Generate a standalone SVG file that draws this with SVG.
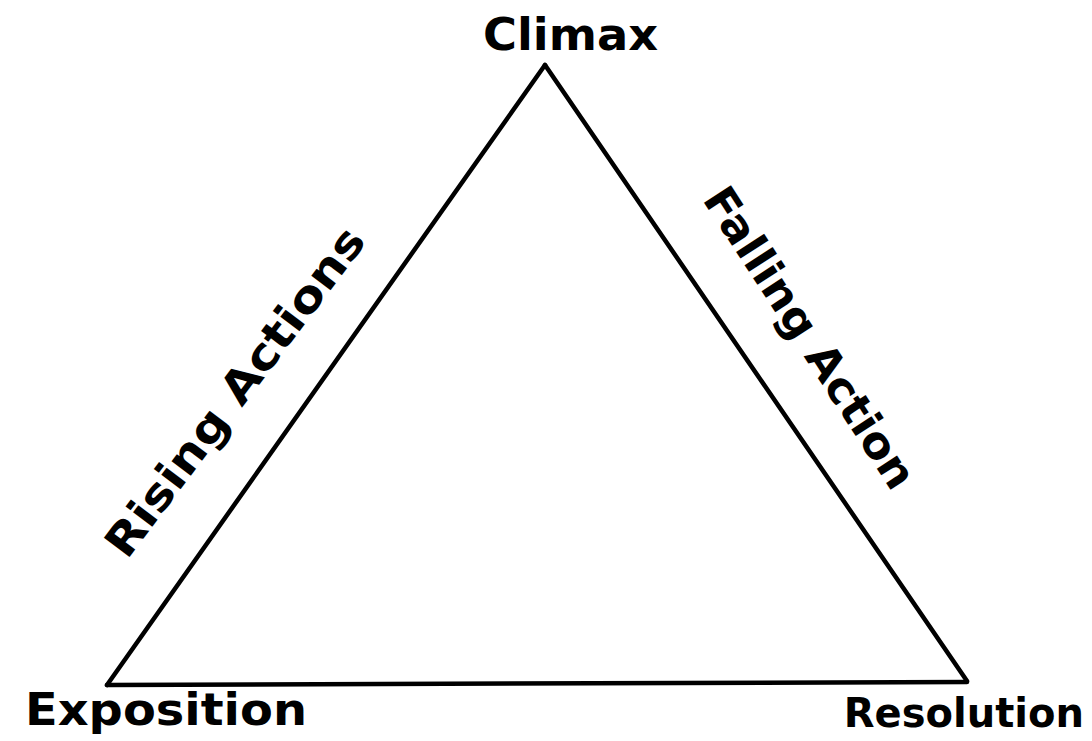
<svg xmlns="http://www.w3.org/2000/svg" width="1092" height="741" viewBox="0 0 1092 741">
<style>
.lbl{font-family:"DejaVu Sans","Liberation Sans",sans-serif;font-weight:bold;font-size:44px;fill:#000}
.lbl.sm{font-size:40px}
.edge{stroke:#000;stroke-width:4.5;fill:none;stroke-linecap:round;stroke-linejoin:round}
</style>
<rect width="1092" height="741" fill="#fff"/>
<g id="connectors">
<path class="edge" d="M107,685 L545,65"/>
<path class="edge" d="M545,65 L967,681"/>
<path class="edge" d="M107,685 L967,682"/>
</g>
<g id="climax"><text class="lbl" x="483" y="50" textLength="175" lengthAdjust="spacingAndGlyphs">Climax</text></g>
<g id="exposition"><text class="lbl" x="25" y="725" textLength="282" lengthAdjust="spacingAndGlyphs">Exposition</text></g>
<g id="resolution"><text class="lbl sm" x="1084" y="727" text-anchor="end">Resolution</text></g>
<g id="rising"><text class="lbl" text-anchor="middle" transform="translate(247,401) rotate(-53)" textLength="400" lengthAdjust="spacingAndGlyphs">Rising Actions</text></g>
<g id="falling"><text class="lbl" text-anchor="middle" transform="translate(797,346) rotate(57)" textLength="350" lengthAdjust="spacingAndGlyphs">Falling Action</text></g>
</svg>
